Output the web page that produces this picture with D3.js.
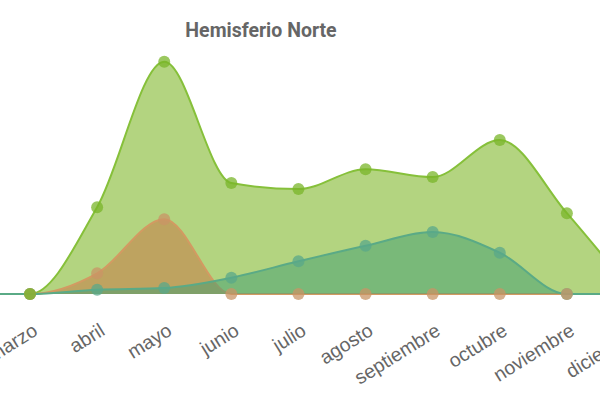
<!DOCTYPE html>
<html><head><meta charset="utf-8">
<script src="https://cdn.jsdelivr.net/npm/d3@7"></script>
<style>body{margin:0;background:#fff}svg{display:block}</style>
</head><body><svg id="c" width="600" height="400"></svg>
<script>
const months = ["enero","febrero","marzo","abril","mayo","junio","julio","agosto","septiembre","octubre","noviembre","diciembre"];
const serieVerde = [0,0,0,10.1,27,12.9,12.2,14.5,13.6,17.9,9.4,0];
const serieNaranja = [0,0,0,2.4,8.7,0,0,0,0,0,0,0];
const serieTurquesa = [0,0,0,0.5,0.7,1.9,3.8,5.6,7.2,4.8,0,0];
const title = "Hemisferio Norte";

const svg = d3.select("#c");
const x = d3.scalePoint().domain(months).range([-104.2, 634]);
const y = d3.scaleLinear().domain([0, 30]).range([294, 36]);

svg.append("text").attr("x", 261).attr("y", 37).attr("text-anchor","middle")
  .attr("font-family","Roboto").attr("font-weight","bold").attr("font-size",19.5)
  .attr("fill","#666").text(title);

const series = [
  {vals: serieVerde, fill:"#7cb524", fo:0.58, stroke:"#86c03a", mark:"#79b52a"},
  {vals: serieNaranja, fill:"#c77a45", fo:0.55, stroke:"#d39a62", mark:"#c99466"},
  {vals: serieTurquesa, fill:"#3f9e72", fo:0.5, stroke:"#5aaa86", mark:"#5aa88a"}
];
const g = svg.append("g");
const dataOf = s => months.map((m,i)=>({m, v:s.vals[i]}));
series.forEach(s => {
  const data = dataOf(s);
  const area = d3.area().x(d=>x(d.m)).y0(y(0)).y1(d=>y(d.v)).curve(d3.curveMonotoneX);
  const line = d3.line().x(d=>x(d.m)).y(d=>y(d.v)).curve(d3.curveMonotoneX);
  g.append("path").attr("d", area(data)).attr("fill", s.fill).attr("fill-opacity", s.fo);
  g.append("path").attr("d", line(data)).attr("fill","none").attr("stroke", s.stroke).attr("stroke-width",2);
});
[series[2], series[1], series[0]].forEach(s => {
  g.selectAll(null).data(dataOf(s)).enter().append("circle")
    .attr("cx", d=>x(d.m)).attr("cy", d=>y(d.v)).attr("r",6)
    .attr("fill", s.mark).attr("fill-opacity",0.75);
});

const ax = svg.append("g");
ax.selectAll("text").data(months).enter().append("text")
  .attr("transform", d=>`translate(${x(d)+9},${334}) rotate(-32)`)
  .attr("text-anchor","end").attr("font-family","Liberation Sans, Arial")
  .attr("font-size",19.5).attr("fill","#666").text(d=>d);
</script></body></html>
